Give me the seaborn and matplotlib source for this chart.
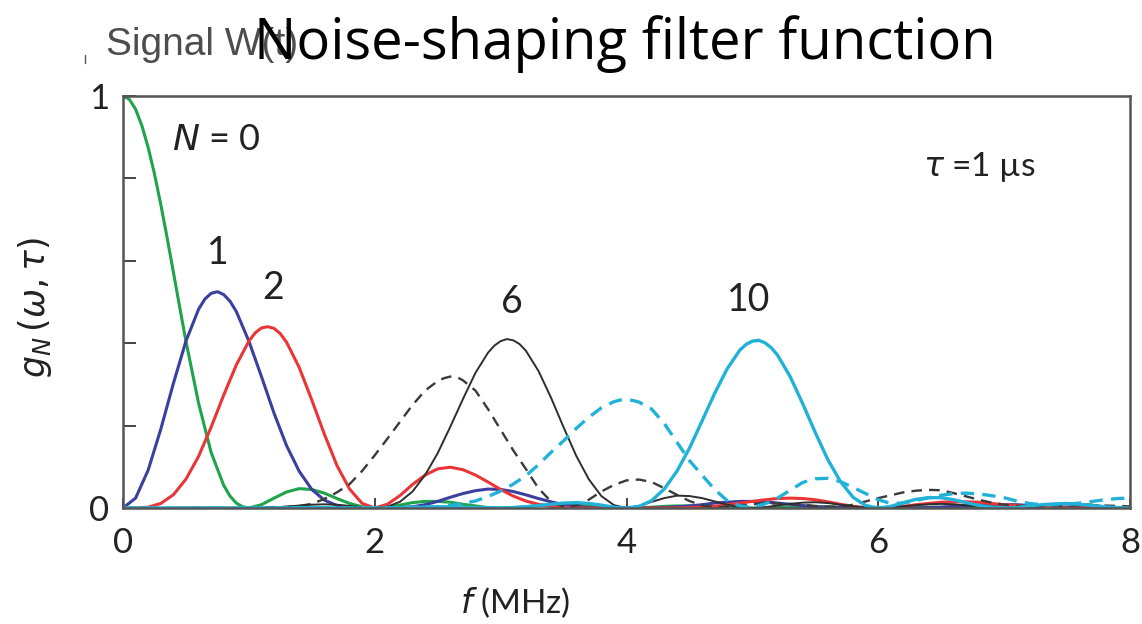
import numpy as np
import pandas as pd
import matplotlib
matplotlib.use("Agg")
import matplotlib.pyplot as plt
import seaborn as sns
from matplotlib.lines import Line2D

# ---------------- data ----------------
freq = [0.0, 0.1, 0.2, 0.3, 0.4, 0.5, 0.6, 0.7, 0.8, 0.9, 1.0,
        1.1, 1.2, 1.3, 1.4, 1.5, 1.6, 1.7, 1.8, 1.9, 2.0,
        2.1, 2.2, 2.3, 2.4, 2.5, 2.6, 2.7, 2.8, 2.9, 3.0,
        3.1, 3.2, 3.3, 3.4, 3.5, 3.6, 3.7, 3.8, 3.9, 4.0,
        4.1, 4.2, 4.3, 4.4, 4.5, 4.6, 4.7, 4.8, 4.9, 5.0,
        5.1, 5.2, 5.3, 5.4, 5.5, 5.6, 5.7, 5.8, 5.9, 6.0,
        6.1, 6.2, 6.3, 6.4, 6.5, 6.6, 6.7, 6.8, 6.9, 7.0,
        7.1, 7.2, 7.3, 7.4, 7.5, 7.6, 7.7, 7.8, 7.9, 8.0]

g_n0 = [1.0, .968, .875, .737, .573, .405, .255, .135, .055, .012, 0,
        .008, .024, .039, .047, .045, .036, .023, .011, .003, 0,
        .002, .007, .013, .016, .016, .014, .009, .005, .001, 0,
        .001, .003, .006, .008, .008, .007, .005, .002, .001, 0,
        .001, .002, .004, .005, .005, .004, .003, .002, 0, 0,
        0, .001, .002, .003, .003, .003, .002, .001, 0, 0,
        0, .001, .002, .002, .002, .002, .001, .001, 0, 0,
        0, .001, .001, .002, .002, .001, .001, .001, 0, 0]

g_n1 = [0, .024, .092, .191, .302, .405, .482, .521, .518, .477, .405,
        .319, .230, .151, .089, .045, .019, .006, .001, 0, 0,
        0, .001, .003, .008, .016, .026, .035, .042, .046, .045,
        .040, .032, .023, .015, .008, .004, .001, 0, 0, 0,
        0, 0, .001, .003, .005, .008, .012, .014, .016, .016,
        .015, .012, .009, .006, .003, .002, .001, 0, 0, 0,
        0, 0, 0, .001, .002, .004, .006, .007, .008, .008,
        .008, .006, .005, .003, .002, .001, 0, 0, 0, 0]

g_n2 = [0, 0, .002, .011, .032, .070, .125, .196, .274, .347, .405,
        .437, .436, .402, .341, .262, .179, .103, .046, .011, 0,
        .009, .030, .057, .080, .095, .099, .093, .080, .063, .045,
        .029, .017, .009, .004, .001, 0, 0, 0, 0, 0,
        0, 0, 0, 0, .001, .002, .004, .008, .012, .016,
        .020, .023, .024, .023, .020, .015, .009, .004, .001, 0,
        .001, .004, .008, .011, .014, .015, .015, .014, .011, .008,
        .006, .003, .002, .001, 0, 0, 0, 0, 0, 0]

g_n6 = [0, 0, 0, 0, 0, .001, .001, .001, .001, 0, 0,
        0, .001, .003, .006, .008, .009, .008, .005, .002, 0,
        .003, .015, .040, .080, .133, .197, .264, .328, .377, .405,
        .407, .382, .333, .268, .196, .127, .070, .029, .007, 0,
        .005, .015, .024, .030, .029, .024, .016, .008, .002, 0,
        .002, .006, .010, .013, .014, .012, .008, .004, .001, 0,
        .001, .004, .007, .009, .010, .009, .006, .003, .001, 0,
        .001, .003, .007, .009, .011, .010, .008, .004, .001, 0]

g_n10 = [0, 0, 0, 0, 0, 0, 0, 0, 0, 0, 0,
         0, 0, 0, .001, .001, .001, 0, 0, 0, 0,
         0, .001, .001, .002, .003, .003, .002, .001, .001, 0,
         .001, .003, .006, .009, .012, .013, .011, .007, .002, 0,
         .004, .018, .046, .089, .145, .211, .278, .338, .383, .405,
         .401, .371, .319, .253, .183, .117, .064, .026, .006, 0,
         .004, .013, .021, .025, .025, .020, .013, .006, .002, 0,
         .001, .005, .008, .010, .011, .009, .006, .003, .001, 0]

g_dash_black = [0, 0, 0, 0, 0, 0, 0, 0, 0, 0, 0,
                .001, .002, .003, .005, .010, .022, .038, .058, .090, .128,
                .168, .209, .250, .285, .308, .319, .310, .285, .240, .190,
                .140, .095, .048, .016, .003, .006, .020, .040, .056, .067,
                .069, .063, .048, .032, .017, .006, .002, .003, .006, .009,
                .011, .011, .010, .008, .005, .003, .003, .008, .016, .024,
                .031, .038, .042, .044, .043, .036, .028, .020, .013, .008,
                .005, .004, .004, .005, .006, .007, .007, .006, .005, .004]

g_dash_cyan = [0, 0, 0, 0, 0, 0, 0, 0, 0, 0, 0,
               0, 0, 0, 0, 0, 0, 0, 0, 0, .001,
               .001, .001, .002, .002, .003, .006, .011, .017, .028, .041,
               .058, .078, .105, .135, .163, .193, .220, .243, .258, .263,
               .257, .240, .205, .160, .115, .080, .045, .018, .005, .002,
               .010, .024, .043, .062, .071, .072, .064, .050, .035, .020,
               .011, .012, .018, .025, .031, .035, .036, .034, .030, .025,
               .017, .011, .008, .008, .009, .012, .016, .020, .023, .024]

# extra readings around the sharply curved parts (peaks)
n0_extra_f = [0.05, 0.15, 0.25, 0.35, 0.45, 0.85, 0.95]
n0_extra_g = [.992, .928, .811, .657, .488, .029, .003]
n1_extra_f = [0.65, 0.75, 0.85]
n1_extra_g = [.507, .525, .502]
n2_extra_f = [1.05, 1.15, 1.25]
n2_extra_g = [.425, .440, .423]
n6_extra_f = [2.95, 3.05, 3.15]
n6_extra_g = [.394, .410, .398]
n10_extra_f = [4.95, 5.05, 5.15]
n10_extra_g = [.397, .407, .389]
d6_extra_f = [2.55, 2.65]
d6_extra_g = [.315, .318]
d10_extra_f = [3.95, 4.05]
d10_extra_g = [.262, .261]

x_ticks = [0, 2, 4, 6, 8]
y_ticks = [0, 0.2, 0.4, 0.6, 0.8, 1.0]
y_ticklabels = ["0", "", "", "", "", "1"]

# ---------------- style ----------------
sns.set_style("white")
plt.rcParams["font.family"] = ["Lato", "DejaVu Sans"]
plt.rcParams["mathtext.fontset"] = "dejavusans"

fig = plt.figure(figsize=(11.42, 6.24), dpi=100)
ax = fig.add_axes([0.1077, 0.1859, 0.8818, 0.6603])


def series_frame(base, ef, eg):
    d = pd.DataFrame({"f": list(freq) + list(ef), "g": list(base) + list(eg)})
    return d.sort_values("f").reset_index(drop=True)


series = [
    (g_n0, n0_extra_f, n0_extra_g, "#1fa34c", 2.2, None),
    (g_n1, n1_extra_f, n1_extra_g, "#3b3f9e", 2.2, None),
    (g_n2, n2_extra_f, n2_extra_g, "#ea3538", 2.2, None),
    (g_dash_black, d6_extra_f, d6_extra_g, "#3a3a3a", 1.7, (4.5, 3.0)),
    (g_n6, n6_extra_f, n6_extra_g, "#2e2e2e", 1.4, None),
    (g_dash_cyan, d10_extra_f, d10_extra_g, "#22b2d8", 2.4, (4.0, 2.5)),
    (g_n10, n10_extra_f, n10_extra_g, "#22b2d8", 2.4, None),
]
for base, ef, eg, color, lw, dash in series:
    d = series_frame(base, ef, eg)
    sns.lineplot(data=d, x="f", y="g", ax=ax, color=color, linewidth=lw,
                 legend=False)
    line = ax.lines[-1]
    line.set_solid_joinstyle("round")
    line.set_solid_capstyle("round")
    if dash is not None:
        line.set_dashes(dash)

ax.set_xlim(0, 8)
ax.set_ylim(0, 1)
ax.set_xticks(x_ticks)
ax.set_xticklabels([str(t) for t in x_ticks])
ax.set_yticks(y_ticks)
ax.set_yticklabels(y_ticklabels)
ax.set_xlabel("")
ax.set_ylabel("")

for s in ax.spines.values():
    s.set_visible(True)
    s.set_color("#555555")
    s.set_linewidth(1.8)

ax.tick_params(axis="y", direction="in", length=9, width=1.4, color="#444444",
               labelsize=25, pad=10, labelcolor="#222222", left=True, right=False)
ax.tick_params(axis="x", direction="in", length=7, width=1.4, color="#444444",
               labelsize=25, pad=14, labelcolor="#222222", bottom=True, top=False)

txt = "#222222"
ax.text(0.74, 0.895, r"$N$ = 0", fontsize=26, color=txt, ha="center", va="center")
ax.text(0.75, 0.62, "1", fontsize=27, color=txt, ha="center", va="center")
ax.text(1.19, 0.535, "2", fontsize=27, color=txt, ha="center", va="center")
ax.text(3.09, 0.50, "6", fontsize=27, color=txt, ha="center", va="center")
ax.text(4.97, 0.505, "10", fontsize=27, color=txt, ha="center", va="center")
ax.text(6.8, 0.828, r"$\tau$" + " =1 \u00b5s", fontsize=24, color=txt,
        ha="center", va="center")

fig.text(515 / 1142, 1 - 603 / 624, r"$f$ (MHz)", fontsize=24, color=txt,
         ha="center", va="center")
fig.text(35 / 1142, 1 - 308 / 624, r"$g_N\,(\omega,\tau)$", fontsize=25,
         color=txt, ha="center", va="center", rotation=90)

# partially hidden slide text behind the title (as in the reference)
fig.text(106 / 1142, 1 - 55 / 624, "Signal W(t)", fontsize=28,
         family="Liberation Sans", color="#4d4d4d", ha="left", va="baseline")
fig.add_artist(Line2D([85 / 1142, 85 / 1142], [1 - 63 / 624, 1 - 55 / 624],
                      color="#555555", lw=1.0))
fig.text(625 / 1142, 1 - 59 / 624, "Noise-shaping filter function", fontsize=40.5,
         family="Open Sans", color="black", ha="center", va="baseline")

fig.savefig("out.png", dpi=100)
